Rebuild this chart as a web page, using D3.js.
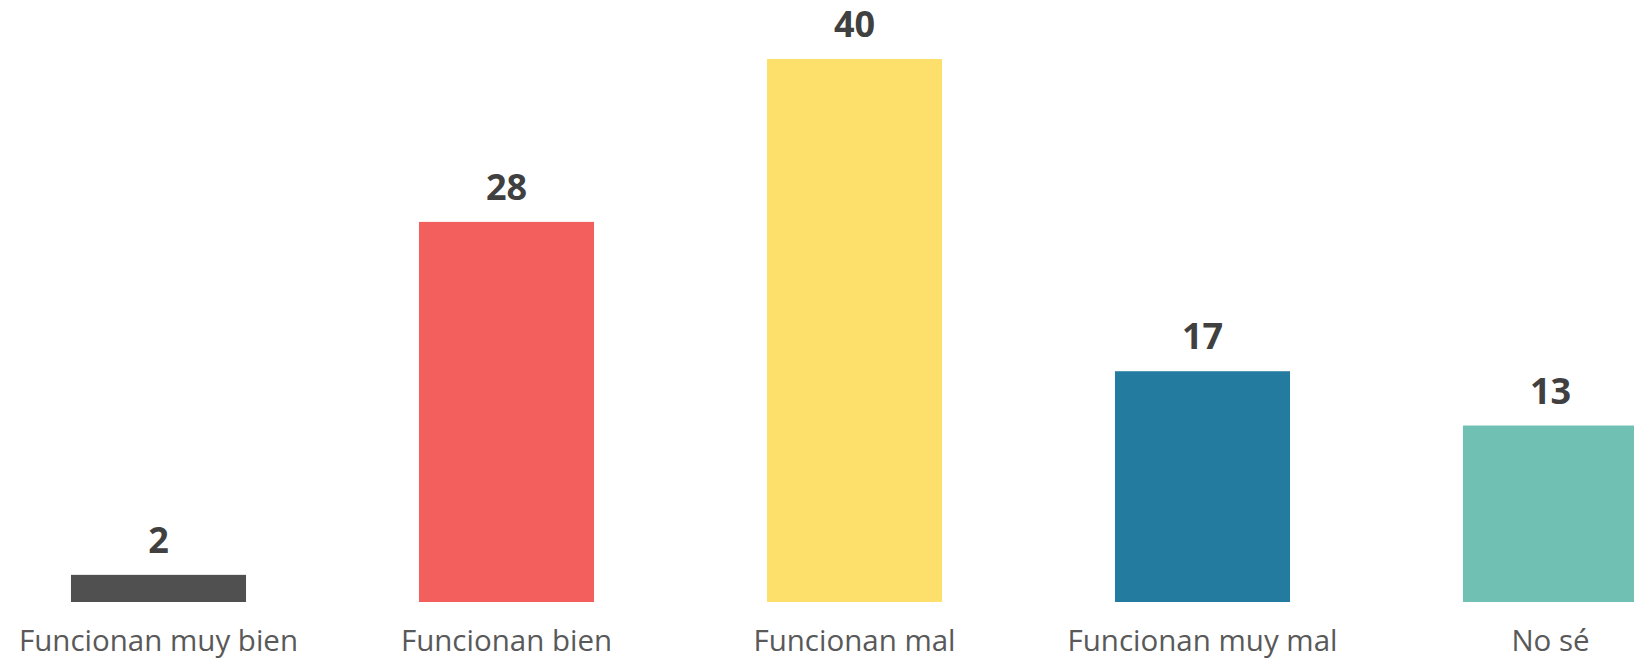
<!DOCTYPE html>
<meta charset="utf-8">
<script src="https://cdn.jsdelivr.net/npm/d3@7"></script>
<style>
body { margin: 0; background: #fff; }
.value { fill: #404040; font: bold 36px "Open Sans", sans-serif; }
.cat { fill: #595959; font: 29.5px "Open Sans", sans-serif; }
</style>
<body>
<script>

// data
var categories = ["Funcionan muy bien", "Funcionan bien", "Funcionan mal", "Funcionan muy mal", "No sé"];
var values = [2, 28, 40, 17, 13];
var colors = ["#505050", "#F25F5C", "#FDDF6B", "#247BA0", "#70C1B3"];

var width = 1634,
    height = 659;

var svg = d3.select("body").append("svg")
    .attr("width", width)
    .attr("height", height);

var x = d3.scaleBand()
    .domain(categories)
    .range([-15.5, 1724.5])
    .paddingInner(0.497)
    .paddingOuter(0.2485);

var y = d3.scaleLinear()
    .domain([0, 40])
    .range([602, 59]);

var bars = svg.selectAll(".bar")
    .data(categories)
  .enter().append("g")
    .attr("class", "bar");

bars.append("rect")
    .attr("x", function(d) { return x(d); })
    .attr("width", x.bandwidth())
    .attr("y", function(d, i) { return y(values[i]); })
    .attr("height", function(d, i) { return y(0) - y(values[i]); })
    .attr("fill", function(d, i) { return colors[i]; });

bars.append("text")
    .attr("class", "value")
    .attr("text-anchor", "middle")
    .attr("x", function(d) { return x(d) + x.bandwidth() / 2; })
    .attr("y", function(d, i) { return y(values[i]) - 22; })
    .text(function(d, i) { return values[i]; });

bars.append("text")
    .attr("class", "cat")
    .attr("text-anchor", "middle")
    .attr("x", function(d) { return x(d) + x.bandwidth() / 2; })
    .attr("y", y(0) + 49)
    .text(function(d) { return d; });

</script>
</body>
